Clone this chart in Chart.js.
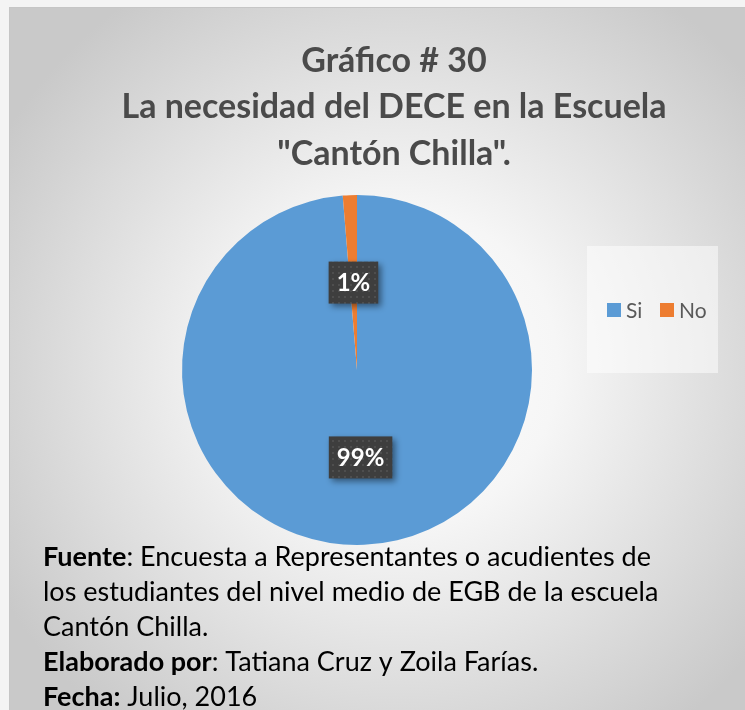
<!DOCTYPE html>
<html>
<head>
<meta charset="utf-8">
<script src="https://cdn.jsdelivr.net/npm/chart.js@4.4.0/dist/chart.umd.min.js"></script>
<style>
  html, body { margin: 0; padding: 0; background: #f4f4f4; }
  #wrap { position: relative; width: 745px; height: 710px; overflow: hidden; background: #f4f4f4; }
  #panel {
    position: absolute; left: 9px; top: 7px; width: 790px; height: 780px;
    border: 1px solid #c6c6c6;
    background: radial-gradient(ellipse 58% 58% at 49% 46%, #ffffff 0%, #f6f6f6 35%, #c9c9c9 100%);
  }
  #pieChart { position: absolute; left: 0; top: 0; }
</style>
</head>
<body>
<div id="wrap">
  <div id="panel"></div>
  <canvas id="pieChart" width="745" height="710"></canvas>
</div>
<script>
// Pie chart: la necesidad del DECE (Si / No)
const categories = ['Si', 'No'];
const percentValues = [98.7, 1.3];
const percentLabels = ['99%', '1%'];
const sliceColors = ['#5B9BD5', '#ED7D31'];

const titleLines = [
  'Gráfico # 30',
  'La necesidad del DECE en la Escuela',
  '"Cantón Chilla".'
];

// each line is a list of [text, bold]
const footnoteLines = [
  [['Fuente', true], [': Encuesta a Representantes o acudientes de', false]],
  [['los estudiantes del nivel medio de EGB de la escuela', false]],
  [['Cantón Chilla.', false]],
  [['Elaborado por', true], [': Tatiana Cruz y Zoila Farías.', false]],
  [['Fecha:', true], [' Julio, 2016', false]]
];

const FONT = 'Lato, "Open Sans", sans-serif';

// dotted dark fill for the data labels
function makePattern(ctx) {
  const tile = document.createElement('canvas');
  tile.width = 6; tile.height = 6;
  const t = tile.getContext('2d');
  t.fillStyle = '#3e3e3e';
  t.fillRect(0, 0, 6, 6);
  t.fillStyle = '#4e4e4e';
  t.fillRect(2, 2, 2, 2);
  return ctx.createPattern(tile, 'repeat');
}

const decorPlugin = {
  id: 'decor',
  afterDraw(chart) {
    const ctx = chart.ctx;
    ctx.save();

    // title
    ctx.fillStyle = '#4a4a4a';
    ctx.font = 'bold 34px ' + FONT;
    ctx.textAlign = 'center';
    ctx.textBaseline = 'middle';
    titleLines.forEach((line, i) => ctx.fillText(line, 394, 61 + i * 46.5));

    // legend box
    ctx.fillStyle = 'rgba(255,255,255,0.5)';
    ctx.fillRect(587, 246, 131, 127);
    ctx.font = '21px ' + FONT;
    ctx.textAlign = 'left';
    let lx = 607;
    chart.data.labels.forEach((lab, i) => {
      ctx.fillStyle = chart.data.datasets[0].backgroundColor[i];
      ctx.fillRect(lx, 303, 14, 14);
      ctx.fillStyle = '#595959';
      ctx.fillText(lab, lx + 19, 311);
      lx += 53;
    });

    // data labels
    const pattern = makePattern(ctx);
    const meta = chart.getDatasetMeta(0);
    ctx.font = 'bold 24px ' + FONT;
    ctx.textAlign = 'center';
    meta.data.forEach((arc, i) => {
      const p = arc.tooltipPosition();
      const txt = percentLabels[i];
      const w = ctx.measureText(txt).width + 16;
      const h = 42;
      ctx.save();
      ctx.shadowColor = 'rgba(0,0,0,0.45)';
      ctx.shadowBlur = 6;
      ctx.shadowOffsetX = 3;
      ctx.shadowOffsetY = 3;
      ctx.fillStyle = pattern;
      ctx.fillRect(p.x - w / 2, p.y - h / 2, w, h);
      ctx.restore();
      ctx.fillStyle = '#ffffff';
      ctx.fillText(txt, p.x, p.y + 1);
    });

    // footnotes
    ctx.textAlign = 'left';
    ctx.textBaseline = 'alphabetic';
    ctx.fillStyle = '#000000';
    footnoteLines.forEach((parts, i) => {
      let x = 43;
      const y = 566 + i * 35;
      parts.forEach(([txt, bold]) => {
        ctx.font = (bold ? 'bold ' : '') + '27px ' + FONT;
        ctx.fillText(txt, x, y);
        x += ctx.measureText(txt).width;
      });
    });

    ctx.restore();
  }
};

const ctx = document.getElementById('pieChart').getContext('2d');
new Chart(ctx, {
  type: 'pie',
  data: {
    labels: categories,
    datasets: [{
      data: percentValues,
      backgroundColor: sliceColors,
      borderWidth: 0
    }]
  },
  options: {
    responsive: false,
    animation: false,
    layout: { padding: { left: 182, right: 213, top: 195, bottom: 165 } },
    plugins: {
      legend: { display: false },
      title: { display: false },
      tooltip: { enabled: false }
    }
  },
  plugins: [decorPlugin]
});
</script>
</body>
</html>
